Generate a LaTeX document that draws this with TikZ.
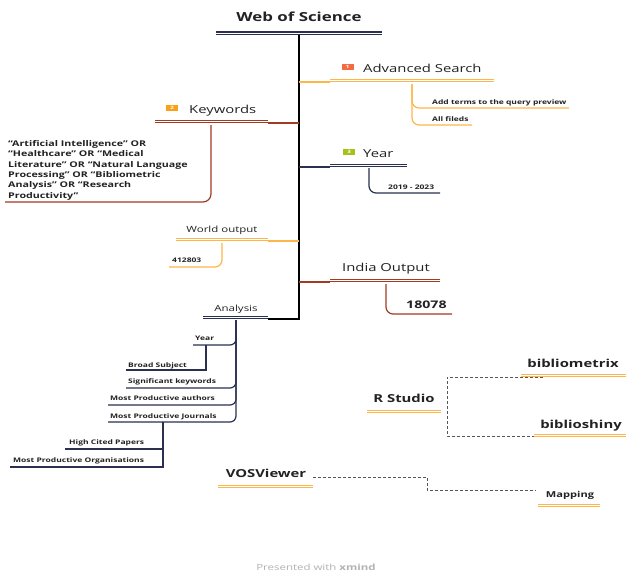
\documentclass[tikz,border=0pt]{standalone}
\usepackage{fontspec}
\setmainfont{Open Sans}[FakeStretch=1.35]
\definecolor{navy}{HTML}{2B3050}
\definecolor{lorange}{HTML}{FDB64A}
\definecolor{dred}{HTML}{A33A22}
\definecolor{badgeA}{HTML}{F26B43}
\definecolor{badgeB}{HTML}{F9A11B}
\definecolor{badgeC}{HTML}{A6C21A}
\definecolor{txt}{HTML}{222222}
\definecolor{dashgray}{HTML}{555555}
\tikzset{
  lbl/.style={inner sep=0pt, text=txt},
  ttl/.style={lbl, font=\bfseries\fontsize{12.5}{14}\selectfont},
  big/.style={lbl, font=\fontsize{11}{13}\selectfont},
  mid/.style={lbl, font=\fontsize{8.5}{10}\selectfont},
  sml/.style={lbl, font=\bfseries\fontsize{6.3}{7.5}\selectfont},
  kwd/.style={lbl, font=\bfseries\fontsize{7.9}{10.4}\selectfont, align=left},
  bigb/.style={lbl, font=\bfseries\fontsize{11}{13}\selectfont},
  badge/.style={minimum width=12pt, minimum height=5.5pt, inner sep=0pt, text=white, font=\bfseries\fontsize{4.5}{4.5}\selectfont},
  dbl/.style={line width=1.05pt, double=white, double distance=0.9pt, draw=#1},
  br/.style={line width=1.2pt, draw=#1, rounded corners=7pt},
  dsh/.style={line width=0.9pt, draw=dashgray, dash pattern=on 3pt off 2pt},
}
\begin{document}
\begin{tikzpicture}[x=1pt,y=-1pt]
\useasboundingbox[fill=white] (0,0) rectangle (626,576);

% root
\node[ttl, anchor=base] (wos) at (299,21.7) {Web of Science};
\draw[line width=1.5pt, double=white, double distance=0.8pt, draw=navy] (216,33) -- (382,33);
\coordinate (trunkTop) at (299,35);
\coordinate (trunkBot) at (299,319);
\coordinate (anaEnd) at (268,319);
\draw[line width=1.5pt, black] (trunkTop) -- (trunkBot) -- (anaEnd);

% Advanced Search
\node[badge, fill=badgeA] (b1) at (347.5,66.8) {1};
\node[big, anchor=base west] (adv) at (363,72.5) {Advanced Search};
\draw[dbl=lorange] (330,80.7) -- (494,80.7);
\coordinate (advL) at (330,82);
\draw[lorange, line width=1.2pt] (299,82) -- (advL);
\coordinate (advK) at (412,84);
\node[sml, anchor=base west] (add) at (432,104) {Add terms to the query preview};
\node[sml, anchor=base west] (all) at (432,121) {All fileds};
\draw[br=lorange] (advK) |- (569,108);
\draw[br=lorange] (advK) |- (472,125);

% Keywords
\node[badge, fill=badgeB] (b2) at (172,107.8) {2};
\node[big, anchor=base west] (kw) at (189,113.5) {Keywords};
\draw[dbl=dred] (155,121.5) -- (268,121.5);
\draw[dred, line width=1.2pt] (268,123) -- (299,123);
\coordinate (kwK) at (211,125);
\node[kwd, anchor=north west] (kwt) at (8,140) {“Artificial Intelligence” OR\\“Healthcare” OR “Medical\\Literature” OR “Natural Language\\Processing” OR “Bibliometric\\Analysis” OR “Research\\Productivity”};
\draw[br=dred, rounded corners=8pt] (kwK) |- (5,202);

% Year
\node[badge, fill=badgeC] (b3) at (349,152) {3};
\node[big, anchor=base west] (yr) at (363,157) {Year};
\draw[dbl=navy] (330,165.3) -- (407,165.3);
\draw[navy, line width=1.2pt] (299,167) -- (330,167);
\coordinate (yrK) at (369,168);
\node[sml, anchor=base west] (yrs) at (388,189) {2019 - 2023};
\draw[br=navy] (yrK) |- (440,193);

% World output
\node[mid, anchor=base] (wo) at (222,232) {World output};
\draw[dbl=lorange] (176,239.8) -- (268,239.8);
\draw[lorange, line width=1.2pt] (268,241) -- (299,241);
\coordinate (woK) at (222,243);
\node[sml, anchor=base west] (wov) at (172,262) {412803};
\draw[br=lorange] (woK) |- (169,267);

% India Output
\node[big, anchor=base] (io) at (386,271.7) {India Output};
\draw[dbl=dred] (330,280.5) -- (440,280.5);
\draw[dred, line width=1.2pt] (299,282) -- (330,282);
\coordinate (ioK) at (386,284);
\node[lbl, font=\bfseries\fontsize{10.5}{12}\selectfont, anchor=base west] (iov) at (406,308) {18078};
\draw[br=dred] (ioK) |- (452,314);

% Analysis
\node[mid, anchor=base] (ana) at (236,311) {Analysis};
\draw[dbl=navy] (203,317) -- (268,317);
\coordinate (anaK) at (236,320);
\node[sml, anchor=base west] (a1) at (195,340.7) {Year};
\node[sml, anchor=base west] (a2) at (128,367) {Broad Subject};
\node[sml, anchor=base west] (a3) at (128,383.7) {Significant keywords};
\node[sml, anchor=base west] (a4) at (110,400.3) {Most Productive authors};
\node[sml, anchor=base west] (a5) at (110,418.3) {Most Productive Journals};
\node[sml, anchor=base west] (a6) at (69,444) {High Cited Papers};
\node[sml, anchor=base west] (a7) at (13,462.3) {Most Productive Organisations};
\draw[br=navy, rounded corners=6pt] (anaK) |- (193,345);
\coordinate (a1K) at (206,345);
\draw[navy, line width=1.2pt] (a1K) |- (126,370);
\draw[br=navy, rounded corners=6pt] (anaK) |- (126,388);
\draw[br=navy, rounded corners=6pt] (anaK) |- (108,405);
\draw[br=navy, rounded corners=6pt] (anaK) |- (108,422);
\coordinate (a5K) at (163,422);
\draw[navy, line width=1.2pt] (a5K) |- (65,449);
\draw[navy, line width=1.2pt] (a5K) |- (10,467);

% R Studio group
\node[bigb, anchor=base] (bm) at (573,367.7) {bibliometrix};
\draw[dbl=lorange] (521,375) -- (626,375);
\node[bigb, anchor=base] (rs) at (404,402.3) {R Studio};
\draw[dbl=lorange] (367,411) -- (441,411);
\node[bigb, anchor=base] (bs) at (581,428.3) {biblioshiny};
\draw[dbl=lorange] (534,435.5) -- (626,435.5);
\coordinate (bmL) at (543,377);
\coordinate (bsL) at (534,436);
\draw[dsh] (bmL) -- (447,377) -- (447,436) -- (bsL);

% VOSViewer
\node[bigb, anchor=base] (vos) at (266,477.7) {VOSViewer};
\draw[dbl=lorange] (218,486) -- (313,486);
\node[lbl, font=\bfseries\fontsize{8.2}{10}\selectfont, anchor=base] (map) at (570,497.3) {Mapping};
\draw[dbl=lorange] (538,505) -- (600,505);
\coordinate (vosR) at (313,477);
\coordinate (mapL) at (536,490);
\draw[dsh] (vosR) -- (427,477) -- (427,490) -- (mapL);

% footer
\node[lbl, text=gray!60, font=\fontsize{8.5}{10}\selectfont, anchor=base] (foot) at (316,570.7) {Presented with \textbf{xmind}};
\end{tikzpicture}
\end{document}
